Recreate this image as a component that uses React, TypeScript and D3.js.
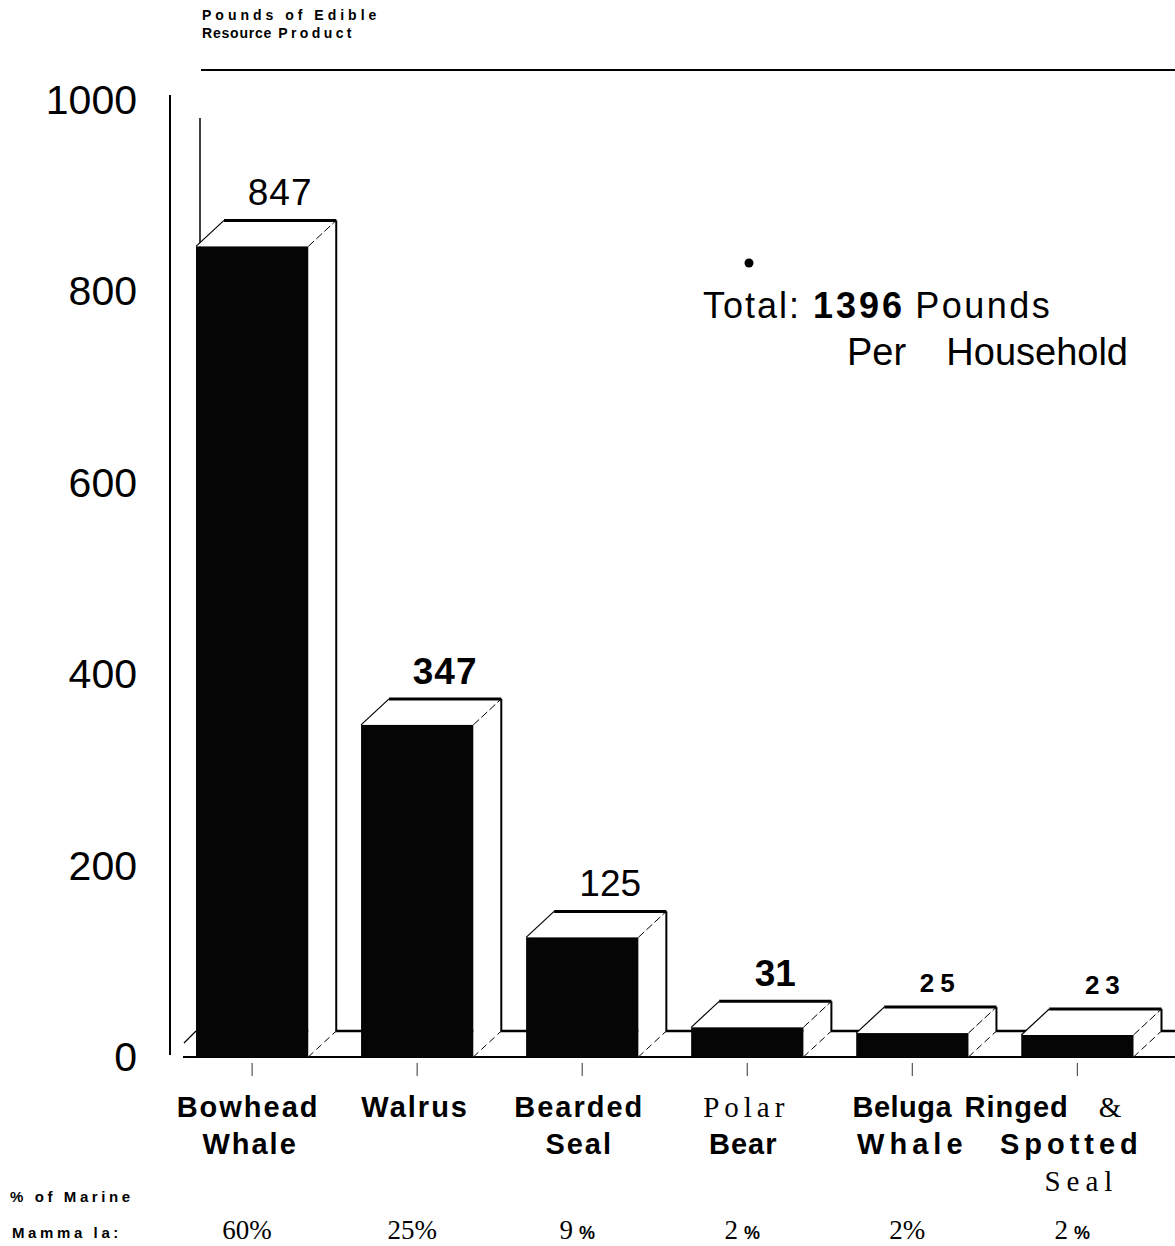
import * as d3 from "d3";
import React from "react";

// data
const categories = ["Bowhead Whale", "Walrus", "Bearded Seal", "Polar Bear", "Beluga Whale", "Ringed & Spotted Seal"];
const pounds = [847, 347, 125, 31, 25, 23];
const shares = ["60", "25", "9", "2", "2", "2"];
const yTicks = [0, 200, 400, 600, 800, 1000];
const totalPounds = 1396;

// label styling per bar (not data)
const valueStyle = [
  { size: 37, weight: 400, ls: 1 },
  { size: 37, weight: 700, ls: 1 },
  { size: 37, weight: 400, ls: 0 },
  { size: 37, weight: 700, ls: 0 },
  { size: 26, weight: 700, ls: 6 },
  { size: 26, weight: 700, ls: 6 },
];
const boldPct = [false, false, true, true, false, true];

const sans = "'Liberation Sans', Arial, sans-serif";
const serif = "'Liberation Serif', 'Times New Roman', serif";

type Line = { t: string; font: string; weight: number; ls: number; dx: number };
const labelLines: Line[][] = [
  [{ t: "Bowhead", font: sans, weight: 700, ls: 2, dx: -4 }, { t: "Whale", font: sans, weight: 700, ls: 2, dx: -2 }],
  [{ t: "Walrus", font: sans, weight: 700, ls: 2, dx: -2 }],
  [{ t: "Bearded", font: sans, weight: 700, ls: 2, dx: -3 }, { t: "Seal", font: sans, weight: 700, ls: 2, dx: -3 }],
  [{ t: "Polar", font: serif, weight: 400, ls: 5, dx: -1 }, { t: "Bear", font: sans, weight: 700, ls: 1, dx: -4 }],
  [{ t: "Beluga", font: sans, weight: 700, ls: 0.5, dx: -10 }, { t: "Whale", font: sans, weight: 700, ls: 5, dx: 0 }],
  [{ t: "Ringed", font: sans, weight: 700, ls: 1, dx: -34 }, { t: "Spotted", font: sans, weight: 700, ls: 5, dx: -6 }, { t: "Seal", font: serif, weight: 400, ls: 6, dx: 4 }],
];

const W = 1175;
const H = 1246;
const dx = 28;
const dy = 26;

export default function App() {
  const x = d3.scaleBand<string>().domain(categories).range([179.5, 1150]).paddingInner(0.32).paddingOuter(0.1);
  const y = d3.scaleLinear().domain([0, 1000]).range([1057, 100]);
  const bw = x.bandwidth();
  const y0 = y(0);
  const axisX = 170;

  return (
    <svg width={W} height={H} style={{ position: "absolute", left: 0, top: 0, background: "#fff" }}>
      <rect width={W} height={H} fill="#fff" />
      {/* header */}
      <text x={202} y={20} fontFamily={sans} fontSize={14} fontWeight={700} letterSpacing={4}>Pounds of Edible</text>
      <text x={202} y={38} fontFamily={sans} fontSize={14}>
        <tspan fontWeight={900} letterSpacing={0.8}>Resource</tspan>
        <tspan fontWeight={700} letterSpacing={3.4} dx={6}>Product</tspan>
      </text>
      <line x1={201} x2={W} y1={70} y2={70} stroke="#000" strokeWidth={2} />

      {/* y axis labels */}
      {yTicks.map((t) => (
        <text key={t} x={137} y={y(t) + 14} textAnchor="end" fontFamily={sans} fontSize={41}>{t}</text>
      ))}
      <line x1={axisX} x2={axisX} y1={95} y2={y0 - 2} stroke="#000" strokeWidth={2} />
      {/* back wall edge */}
      <line x1={axisX + dx + 2} x2={axisX + dx + 2} y1={118} y2={y0 - dy} stroke="#000" strokeWidth={1.5} />

      {/* floor */}
      <line x1={axisX + dx + 2} x2={W} y1={y0 - dy} y2={y0 - dy} stroke="#000" strokeWidth={2.5} />
      <line x1={183} x2={W} y1={y0} y2={y0} stroke="#000" strokeWidth={2} />
      <line x1={184} x2={196} y1={y0 - 14} y2={y0 - 26} stroke="#000" strokeWidth={1.3} />

      {/* bars */}
      {categories.map((c, i) => {
        const bx = x(c) as number;
        const by = y(pounds[i]);
        const top = `${bx},${by} ${bx + dx},${by - dy} ${bx + bw + dx},${by - dy} ${bx + bw},${by}`;
        const side = `${bx + bw},${by} ${bx + bw + dx},${by - dy} ${bx + bw + dx},${y0 - dy} ${bx + bw},${y0}`;
        return (
          <g key={c}>
            <polygon points={side} fill="#fff" stroke="none" />
            <line x1={bx + bw + dx} x2={bx + bw + dx} y1={by - dy} y2={y0 - dy} stroke="#000" strokeWidth={2} />
            <line x1={bx + bw} x2={bx + bw + dx} y1={y0} y2={y0 - dy} stroke="#000" strokeWidth={1} strokeDasharray="7 4" />
            <polygon points={top} fill="#fff" stroke="none" />
            <line x1={bx} x2={bx + dx} y1={by} y2={by - dy} stroke="#000" strokeWidth={1.2} />
            <line x1={bx + bw} x2={bx + bw + dx} y1={by} y2={by - dy} stroke="#000" strokeWidth={1} strokeDasharray="8 3" />
            <line x1={bx + dx} x2={bx + bw + dx} y1={by - dy} y2={by - dy} stroke="#000" strokeWidth={3} />
            <rect x={bx} y={by} width={bw} height={y0 - by} fill="#050505" />
            <line x1={bx + bw / 2} x2={bx + bw / 2} y1={y0 + 6} y2={y0 + 19} stroke="#555" strokeWidth={1.2} />
            <text
              x={bx + bw / 2 + dx}
              y={by - dy - 15}
              textAnchor="middle"
              fontFamily={sans}
              fontSize={valueStyle[i].size}
              fontWeight={valueStyle[i].weight}
              letterSpacing={valueStyle[i].ls}
            >
              {pounds[i]}
            </text>
          </g>
        );
      })}

      {/* total annotation */}
      <circle cx={749} cy={263} r={4.5} fill="#000" />
      <text x={703} y={318} fontFamily={sans} fontSize={36} letterSpacing={2}>
        Total:
        <tspan fontWeight={700} letterSpacing={3} dx={12}>{totalPounds}</tspan>
        <tspan dx={10} letterSpacing={2.5}>Pounds</tspan>
      </text>
      <text x={847} y={365} fontFamily={sans} fontSize={38}>Per</text>
      <text x={1128} y={365} fontFamily={sans} fontSize={38} textAnchor="end">Household</text>

      {/* category labels */}
      {categories.map((c, i) => {
        const cx = (x(c) as number) + bw / 2;
        return (
          <g key={"l" + c}>
            {labelLines[i].map((ln, j) => (
              <text
                key={j}
                x={cx + ln.dx}
                y={1117 + j * 37}
                textAnchor="middle"
                fontFamily={ln.font}
                fontSize={29}
                fontWeight={ln.weight}
                letterSpacing={ln.ls}
              >
                {ln.t}
                {i === 5 && j === 0 ? <tspan fontFamily={serif} fontWeight={400} dx={30}>&amp;</tspan> : null}
              </text>
            ))}
          </g>
        );
      })}

      {/* share row */}
      <text x={10} y={1202} fontFamily={sans} fontSize={15} fontWeight={700} letterSpacing={3.6}>% of Marine</text>
      <text x={12} y={1238} fontFamily={sans} fontSize={15} fontWeight={700} letterSpacing={3.6}>Mamma la:</text>
      {categories.map((c, i) => {
        const cx = (x(c) as number) + bw / 2;
        return (
          <text key={"p" + c} x={cx - 5} y={1239} textAnchor="middle" fontFamily={serif} fontSize={27}>
            {shares[i]}
            {boldPct[i] ? (
              <tspan fontFamily={sans} fontWeight={700} fontSize={18} dx={6}>%</tspan>
            ) : (
              "%"
            )}
          </text>
        );
      })}
    </svg>
  );
}
